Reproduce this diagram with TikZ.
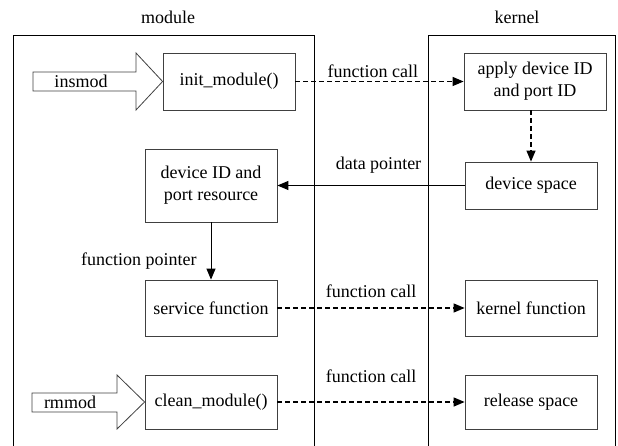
\documentclass[tikz,border=0pt]{standalone}
\usepackage{fontspec}
\setmainfont{Liberation Serif}
\usepackage{tikz}
\usetikzlibrary{arrows.meta, positioning}
\tikzstyle{block} = [rectangle, minimum width=132pt, minimum height=56pt, inner sep=2pt, text centered, align=center, draw=black!75, line width=0.8pt]
\tikzstyle{frame} = [draw=black, line width=0.8pt]
\tikzstyle{bigarrow} = [draw=black!75, line width=0.8pt, fill=white]
\tikzstyle{lbl} = [inner sep=0pt, text height=12pt, text depth=4pt]
\tikzstyle{arrow} = [line width=1pt, -{Triangle[length=11pt,width=9pt]}]
\tikzstyle{callarrow} = [arrow, line width=1.2pt, dash pattern=on 5pt off 3pt]

\begin{document}
\begin{tikzpicture}[x=1pt, y=-1pt, font=\fontsize{18}{22}\selectfont]
            \useasboundingbox (0,0) rectangle (618,446);

            % two sides
            \draw [frame] (13,446) |- (314,35) -- (314,446);
            \draw [frame] (428,446) |- (615,35) -- (615,446);
            \node (module) at (168,17) {module};
            \node (kernel) at (517,17) {kernel};

            \node (init-module) [block, minimum height=57pt] at (229,81.5) {init\_module()};
            \node (apply-id) [block, minimum width=142pt, minimum height=57pt] at (535,81.5) {apply device ID\\and port ID};
            \node (device-space) [block, minimum height=47pt] at (531,185.5) {device space};
            \node (port-resource) [block, minimum height=73pt] at (211,185.5) {device ID and\\port resource};
            \node (service) [block] at (211,308) {service function};
            \node (kernel-function) [block] at (531,308) {kernel function};
            \node (clean-module) [block, minimum height=54pt] at (211,402) {clean\_module()};
            \node (release) [block, minimum height=54pt] at (531,402) {release space};

            % load / unload
            \draw [bigarrow] (33,72) -- (136,72) -- (136,53) -- (init-module.west) -- (136,110) -- (136,91) -- (33,91) -- cycle;
            \node (insmod) at (81,81.5) {insmod};
            \draw [bigarrow] (32,393) -- (117,393) -- (117,375) -- (clean-module.west) -- (117,429) -- (117,412) -- (32,412) -- cycle;
            \node (rmmod) at (70,402) {rmmod};

            \draw [callarrow] (init-module) -- node[lbl, above=-0.5pt, pos=0.46] {function call} (apply-id);
            \draw [callarrow] (device-space.north |- apply-id.south) -- (device-space.north);
            \draw [arrow] (device-space) -- node[lbl, above=11pt, pos=0.46] {data pointer} (port-resource);
            \draw [arrow] (port-resource) -- node[lbl, left=14pt, pos=0.69] {function pointer} (service);
            \draw [callarrow] (service) -- node[lbl, above=6pt] {function call} (kernel-function);
            \draw [callarrow] (clean-module) -- node[lbl, above=15pt] {function call} (release);
        \end{tikzpicture}
\end{document}
